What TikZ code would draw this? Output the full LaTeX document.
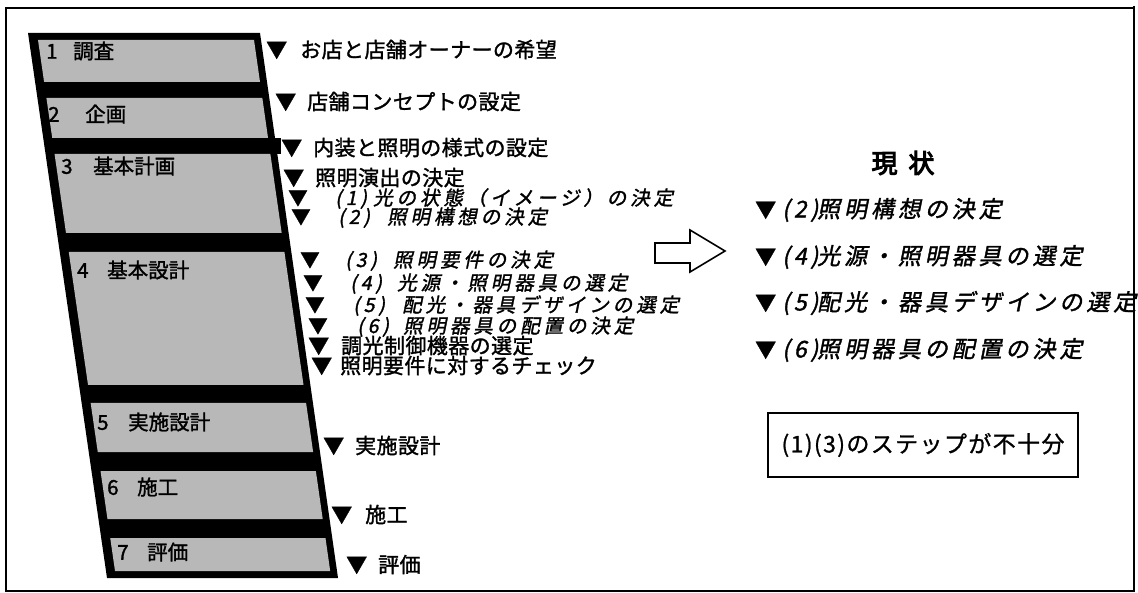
\documentclass[tikz,border=0pt]{standalone}
\usepackage{fontspec}
\setmainfont{Noto Sans CJK JP}[FakeBold=1.5]
\newfontfamily\jpl{Noto Sans CJK JP}[FakeBold=1.5,LetterSpace=0]
\newfontfamily\jpu{Noto Sans CJK JP}[FakeBold=1.5,LetterSpace=2]
\newfontfamily\jpi{Noto Sans CJK JP}[FakeBold=1.5,FakeSlant=0.2,LetterSpace=20]
\newfontfamily\jpr{Noto Sans CJK JP}[FakeBold=1.5,FakeSlant=0.2,LetterSpace=17]
\newfontfamily\jph{Noto Sans CJK JP}[FakeBold=4,LetterSpace=42]
\newfontfamily\jpb{Noto Sans CJK JP}[FakeBold=1,LetterSpace=6]
\definecolor{bandgray}{gray}{0.72}
\newcommand{\tri}[1]{\makebox[#1pt][l]{\normalfont\fontsize{21}{21}\selectfont ▼}}
\newcommand{\trs}[1]{\makebox[#1pt][l]{\normalfont\fontsize{19.5}{19.5}\selectfont ▼}}
\newcommand{\pn}[2]{\makebox[#1pt][l]{#2}}
\newcommand{\gslice}[2]{\fill[bandfill] ({37+0.145*(#1-33)},#1) -- ({253+0.1435*(#1-33)},#1) -- ({253+0.1435*(#2-33)},#2) -- ({37+0.145*(#2-33)},#2) -- cycle;}
\tikzset{
  bandfill/.style={fill=bandgray},
  lbl/.style={anchor=west, inner sep=0pt, font=\jpl\fontsize{20.5}{20.5}\selectfont},
  itemu/.style={anchor=west, inner sep=0pt, text height=14pt, text depth=3pt, font=\jpu\fontsize{21}{21}\selectfont},
  itemi/.style={anchor=west, inner sep=0pt, text height=13pt, text depth=3pt, font=\jpi\fontsize{19.5}{19.5}\selectfont},
  itemr/.style={anchor=west, inner sep=0pt, font=\jpr\fontsize{23}{23}\selectfont},
  frameline/.style={draw=black, line width=1.6pt},
  blockarrow/.style={draw=black, line width=1.6pt, fill=white, line join=miter},
  notebox/.style={draw=black, line width=1.8pt, minimum width=310pt, minimum height=64pt, inner sep=0pt, font=\jpb\fontsize{23}{23}\selectfont}
}
\begin{document}
\begin{tikzpicture}[x=1pt,y=-1pt]
\useasboundingbox (0,0) rectangle (1138,593);
% outer frame
\draw[frameline] (6,8) rectangle (1134,591);
\draw[line width=2.8pt] (1134,6) -- (1134,592);
% process band
\fill[black] (28,33) -- (260,33) -- (338,578) -- (107,578) -- cycle;
\fill[black] (255,138) rectangle (281,154);
\gslice{40}{82}
\gslice{98}{138}
\gslice{154}{233}
\gslice{252}{385}
\gslice{403}{452}
\gslice{471}{519}
\gslice{538}{571}
% stage labels
\node[lbl] (s1) at (46,51) {\pn{27}{1}調査};
\node[lbl] (s2) at (48,114) {\pn{37}{2}企画};
\node[lbl] (s3) at (61,166) {\pn{32}{3}基本計画};
\node[lbl] (s4) at (77,270) {\pn{30}{4}基本設計};
\node[lbl] (s5) at (97,422) {\pn{31}{5}実施設計};
\node[lbl] (s6) at (107,487) {\pn{30}{6}施工};
\node[lbl] (s7) at (117,552) {\pn{30}{7}評価};
% step list
\node[itemu] (i1) at (266,52) {\tri{34}お店と店舗オーナーの希望};
\node[itemu] (i2) at (275,104) {\tri{32}店舗コンセプトの設定};
\node[itemu] (i3) at (281,150) {\tri{32}内装と照明の様式の設定};
\node[itemu] (i4) at (283,180) {\tri{32}照明演出の決定};
\node[itemi] (i5) at (288,200) {\trs{47}\pn{38}{(1)}光の状態（イメージ）の決定};
\node[itemi] (i6) at (291,219) {\trs{47}\pn{49}{(2)}照明構想の決定};
\node[itemi] (i7) at (300,262) {\trs{45}\pn{48}{(3)}照明要件の決定};
\node[itemi] (i8) at (303,285) {\trs{47}\pn{47}{(4)}光源・照明器具の選定};
\node[itemi] (i9) at (305,307) {\trs{48}\pn{49}{(5)}配光・器具デザインの選定};
\node[itemi] (i10) at (308,328) {\trs{49}\pn{46}{(6)}照明器具の配置の決定};
\node[itemu] (i11) at (308,348) {\tri{33}調光制御機器の選定};
\node[itemu] (i12) at (311,368) {\tri{29}照明要件に対するチェック};
\node[itemu] (i13) at (323,448) {\tri{32}実施設計};
\node[itemu] (i14) at (331,517) {\tri{34}施工};
\node[itemu] (i15) at (346,567) {\tri{32}評価};
% arrow
\draw[blockarrow] (655,243) -- (690,243) -- (690,230) -- (725,251) -- (690,272) -- (690,263) -- (655,263) -- cycle;
% current state
\node[font=\jph\fontsize{26}{26}\selectfont] (hd) at (903,163) {現状};
\node[itemr] (r1) at (755,210) {\tri{27}\pn{35}{(2)}照明構想の決定};
\node[itemr] (r2) at (755,257) {\tri{27}\pn{35}{(4)}光源・照明器具の選定};
\node[itemr] (r3) at (755,303) {\tri{27}\pn{35}{(5)}配光・器具デザインの選定};
\node[itemr] (r4) at (755,350) {\tri{27}\pn{35}{(6)}照明器具の配置の決定};
\node[notebox] (nb) at (923,445) {(1)(3)のステップが不十分};
\end{tikzpicture}
\end{document}
